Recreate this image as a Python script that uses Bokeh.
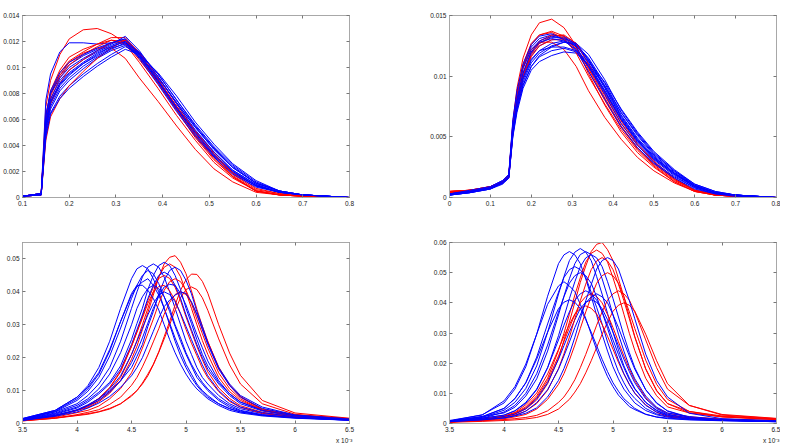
import numpy as np
from bokeh.plotting import figure
from bokeh.layouts import column, row
from bokeh.models import (Range1d, FixedTicker, CustomJSTickFormatter, LinearAxis,
                          Title, ColumnDataSource)
from bokeh.embed import file_html
from bokeh.resources import INLINE

FONT = "Liberation Sans"
BLUE = "#0000ff"
RED = "#ff0000"
GRAY = "#a8a8a8"

# ---------------- top-left panel (values x 1e-4) ----------------
TL_X = [0.10, 0.14, 0.15, 0.16, 0.18, 0.20, 0.23, 0.26, 0.29, 0.32, 0.35, 0.39,
        0.43, 0.47, 0.51, 0.55, 0.60, 0.65, 0.70, 0.80]
TL_BLUE = [
    [1, 3, 75, 95, 112, 119, 119, 118, 119, 119, 108, 89, 68, 48, 32, 19, 9, 4, 2, 0],
    [1, 3, 60, 80, 94, 102, 109, 114, 119, 122, 111, 91, 70, 50, 33, 20, 9, 4, 2, 0],
    [1, 2, 55, 72, 86, 94, 103, 110, 116, 120, 110, 93, 73, 54, 37, 23, 11, 5, 2, 0],
    [1, 2, 50, 68, 82, 90, 99, 107, 113, 117, 108, 90, 70, 51, 35, 21, 10, 4, 2, 0],
    [1, 3, 58, 76, 90, 98, 106, 112, 117, 121, 109, 89, 68, 49, 32, 19, 9, 4, 2, 0],
    [1, 2, 48, 65, 78, 86, 95, 103, 110, 116, 111, 95, 75, 56, 39, 25, 12, 5, 2, 0],
    [1, 3, 62, 82, 96, 104, 110, 115, 119, 122, 110, 90, 69, 50, 33, 20, 9, 4, 2, 0],
    [1, 2, 52, 70, 84, 92, 101, 108, 114, 119, 112, 95, 75, 55, 38, 24, 11, 5, 2, 0],
    [1, 3, 56, 74, 88, 96, 104, 111, 116, 120, 107, 87, 66, 47, 31, 18, 8, 4, 2, 0],
    [1, 2, 46, 64, 76, 84, 93, 101, 108, 114, 110, 96, 78, 58, 41, 26, 13, 5, 2, 0],
    [1, 3, 64, 80, 92, 100, 107, 113, 118, 124, 113, 93, 72, 52, 35, 21, 10, 4, 2, 0],
    [1, 2, 54, 73, 87, 95, 103, 109, 115, 118, 109, 92, 73, 54, 37, 23, 11, 5, 2, 0],
]
TL_RED = [
    [1, 3, 70, 90, 110, 122, 129, 130, 126, 119, 106, 88, 67, 46, 29, 16, 5, 2, 1, 0],
    [1, 3, 60, 80, 96, 105, 112, 118, 123, 123, 111, 91, 69, 48, 31, 17, 5, 2, 1, 0],
    [1, 2, 55, 75, 92, 102, 110, 116, 121, 120, 108, 88, 67, 47, 30, 16, 5, 2, 1, 0],
    [1, 3, 62, 82, 98, 108, 114, 118, 121, 118, 104, 84, 63, 44, 27, 15, 5, 2, 1, 0],
    [1, 2, 58, 78, 94, 104, 111, 115, 115, 107, 92, 74, 55, 37, 22, 12, 4, 2, 1, 0],
    [1, 2, 52, 72, 88, 98, 106, 113, 119, 121, 110, 91, 70, 50, 33, 18, 6, 3, 1, 0],
    [1, 2, 44, 62, 76, 86, 97, 107, 115, 121, 112, 93, 72, 51, 34, 19, 7, 3, 1, 0],
]

# ---------------- top-right panel (values x 1e-4) ----------------
TR_X = [0.0, 0.05, 0.10, 0.13, 0.145, 0.155, 0.165, 0.18, 0.20, 0.22, 0.25, 0.28,
        0.31, 0.34, 0.38, 0.42, 0.46, 0.50, 0.55, 0.60, 0.65, 0.70, 0.80]
TR_BLUE = [
    [3, 5, 8, 12, 17, 60, 85, 108, 124, 131, 134, 133, 127, 113, 90, 66, 47, 32, 19, 9, 4, 2, 0],
    [3, 5, 8, 13, 18, 55, 78, 100, 117, 125, 130, 131, 127, 114, 92, 68, 49, 34, 20, 10, 4, 2, 0],
    [2, 4, 7, 12, 16, 52, 74, 95, 111, 119, 125, 128, 126, 115, 94, 70, 51, 35, 21, 10, 4, 2, 0],
    [3, 5, 8, 13, 17, 58, 80, 102, 119, 127, 132, 132, 126, 111, 88, 64, 45, 31, 18, 8, 3, 1, 0],
    [2, 4, 7, 11, 16, 50, 70, 90, 105, 112, 117, 120, 119, 110, 92, 70, 52, 36, 22, 11, 5, 2, 0],
    [3, 5, 9, 14, 19, 62, 86, 107, 122, 129, 133, 131, 124, 108, 85, 61, 43, 29, 17, 8, 3, 1, 0],
    [2, 4, 7, 12, 17, 54, 76, 97, 113, 121, 127, 129, 125, 113, 91, 67, 48, 33, 20, 9, 4, 2, 0],
    [3, 5, 8, 13, 18, 56, 79, 99, 114, 121, 124, 124, 121, 112, 95, 73, 54, 38, 23, 11, 5, 2, 0],
    [2, 5, 8, 12, 17, 53, 73, 93, 108, 116, 121, 123, 120, 108, 87, 64, 46, 32, 19, 9, 4, 2, 0],
    [3, 6, 9, 14, 19, 64, 88, 110, 126, 133, 135, 130, 121, 104, 81, 58, 41, 28, 16, 7, 3, 1, 0],
    [2, 4, 8, 12, 16, 51, 72, 92, 108, 117, 124, 128, 127, 118, 97, 72, 53, 37, 22, 10, 4, 2, 0],
    [3, 5, 8, 13, 17, 57, 81, 103, 120, 128, 131, 129, 122, 109, 88, 65, 47, 33, 20, 9, 4, 2, 0],
]
TR_RED = [
    [5, 6, 8, 12, 17, 62, 90, 115, 134, 144, 147, 140, 125, 102, 76, 54, 37, 25, 13, 5, 2, 1, 0],
    [5, 6, 9, 13, 18, 60, 85, 108, 126, 134, 137, 133, 122, 104, 80, 58, 40, 27, 14, 6, 2, 1, 0],
    [4, 6, 8, 12, 17, 56, 80, 102, 120, 129, 134, 133, 124, 106, 82, 59, 41, 28, 15, 6, 2, 1, 0],
    [5, 6, 9, 13, 18, 58, 84, 106, 122, 128, 128, 122, 108, 88, 66, 48, 33, 22, 12, 5, 2, 1, 0],
    [4, 5, 8, 12, 16, 52, 76, 98, 116, 125, 130, 130, 123, 107, 84, 61, 43, 29, 15, 6, 2, 1, 0],
    [5, 6, 8, 13, 17, 55, 79, 100, 118, 127, 133, 134, 127, 110, 86, 63, 44, 30, 16, 6, 3, 1, 0],
    [4, 6, 9, 13, 18, 59, 86, 110, 127, 134, 136, 131, 119, 100, 77, 56, 39, 26, 13, 5, 2, 1, 0],
]

# ---------------- bottom panels (x in units of 1e-3, values x 1e-3) ----------------
B_X = [3.5, 3.8, 4.0, 4.1, 4.2, 4.3, 4.4, 4.5, 4.55, 4.6, 4.65, 4.7, 4.75, 4.8,
       4.85, 4.9, 4.95, 5.0, 5.05, 5.1, 5.15, 5.2, 5.3, 5.4, 5.5, 5.7, 6.0, 6.5]
BL_BLUE = [
    [1.5, 4, 8, 11.5, 17, 25, 35, 44, 47, 48, 47, 44, 40, 35, 30, 25, 20.6, 17, 14, 11.5, 9.6, 8, 6, 4.5, 3.5, 2.5, 1.8, 1.1],
    [1.3, 3.5, 6, 8.5, 12, 17, 25, 35, 40, 44.5, 47.5, 48.5, 47.5, 44.5, 40, 35, 30, 25, 21, 17, 14, 12, 8.5, 6, 4.5, 3, 2, 1.2],
    [1.2, 3, 5, 7, 9.5, 12.5, 17.5, 25.5, 30.4, 35, 40.7, 45, 48, 49, 48, 45, 40.7, 35, 30.4, 25.5, 21, 17.5, 12.5, 9, 6.5, 4, 2.3, 1.3],
    [1.4, 3.8, 7.5, 10.5, 15, 22, 31, 39, 41.5, 43, 44, 42, 39, 35, 30.5, 26, 22, 18, 15, 12, 10, 8.5, 6, 4.5, 3.5, 2.5, 1.7, 1],
    [1.1, 2.8, 4.7, 6.5, 9, 12, 16.5, 24, 28.5, 33, 38, 42, 45, 46, 45, 42, 38, 33, 28.5, 24, 20, 16.5, 12, 8.5, 6, 3.8, 2.2, 1.2],
    [1, 2.5, 4, 5.5, 7.5, 10, 13, 17, 20.4, 24, 29.5, 34, 39.4, 43.5, 46.5, 47.5, 46.5, 43.5, 39.4, 34, 29.5, 24.5, 17, 12, 8.5, 5, 2.6, 1.4],
    [1.2, 3.2, 5.5, 7.5, 10.5, 15, 21.5, 30, 35, 38.5, 41, 42, 41, 38.5, 35, 30, 26, 21.5, 18, 15, 12.5, 10.5, 7.5, 5.5, 4, 2.7, 1.8, 1],
    [1, 2.5, 4.2, 5.7, 7.5, 10.5, 14.5, 21, 25, 29, 33, 36.5, 39, 40, 39.2, 37, 33.5, 29.5, 25.5, 21.5, 17.8, 14.5, 10, 7, 5, 3.3, 2, 1.1],
    [1, 2.4, 4, 5.4, 7, 9.5, 13, 18.5, 22, 26, 30.5, 35, 38.6, 41.5, 42.3, 42, 39.5, 36, 31.5, 27, 23, 19, 13, 9, 6.5, 4, 2.3, 1.2],
    [1.3, 3.6, 7, 9.8, 14, 20.5, 29, 38, 42, 45, 46.5, 45.5, 42.5, 38.5, 34, 29.5, 25, 21, 17.5, 14, 12, 10, 7, 5, 3.8, 2.6, 1.8, 1],
    [0.9, 2.2, 3.5, 4.7, 6.2, 8.2, 11, 14.5, 17, 20, 24, 28, 32, 35.5, 37.5, 39, 40, 39.5, 37, 33, 28.5, 24, 16.5, 11.5, 8, 4.6, 2.5, 1.3],
    [1.5, 4, 8, 11, 15.5, 22.5, 31, 39.5, 42, 42, 40.5, 38, 34.5, 30, 25.5, 21.5, 18, 15, 12.5, 10.5, 9, 7.5, 5.5, 4, 3.2, 2.3, 1.6, 1],
]
BL_RED = [
    [1, 2.5, 4, 4.8, 6.6, 9.2, 13, 19.5, 23.5, 28.5, 33.7, 39, 44.4, 48.5, 50.5, 51, 49, 45.5, 40.3, 34.7, 29.6, 25, 16.8, 11.7, 8.2, 4.4, 2.6, 1.5],
    [1, 2.2, 4.1, 5.1, 7, 9.7, 14, 21, 25.2, 30, 35, 40, 44.6, 47.5, 48.5, 47.5, 44.6, 40, 35, 30, 25.2, 21, 14, 9.7, 7, 4.1, 2.4, 1.4],
    [0.9, 1.7, 2.5, 3, 3.6, 4.6, 6, 8.6, 10, 12.3, 15, 18, 21.8, 26.4, 31, 36, 40.5, 43.7, 45.4, 45.3, 43.2, 39.6, 30, 21.4, 14.6, 7, 3.2, 1.6],
    [0.8, 1.6, 2.4, 2.8, 3.5, 4.4, 6, 8.3, 10, 12, 14.5, 17.8, 21.6, 25.7, 30, 34.4, 38.2, 40.7, 41.5, 40.7, 38.2, 34.4, 25.7, 17.8, 12, 6, 2.8, 1.4],
    [1, 2.2, 4, 5.4, 7.6, 10.8, 15.7, 23.4, 27.9, 32.4, 37.4, 41.4, 44.1, 45, 44.1, 41.4, 37.4, 32.4, 27.9, 23.4, 19.4, 15.7, 10.8, 7.6, 5.4, 3.4, 2.1, 1.2],
    [0.8, 1.6, 2.7, 3.4, 4.2, 5.8, 8, 11.6, 14, 17.2, 20.8, 24.8, 28.8, 33.2, 36.8, 39.2, 40, 39.2, 36.8, 33.2, 28.8, 24.8, 17.2, 11.6, 8, 4.2, 2.2, 1.2],
    [0.9, 1.9, 3.3, 4, 5.3, 7.5, 10.6, 15.4, 18.9, 22.9, 27.3, 31.7, 36.5, 40.5, 43.1, 44, 43.1, 40.5, 36.5, 31.7, 27.3, 22.9, 15.4, 10.6, 7.5, 4, 2.3, 1.3],
    [1, 2.3, 4, 5.5, 7.6, 10.9, 16, 23.5, 27.7, 32, 36.5, 40, 41.6, 42, 40.3, 37.4, 33.2, 28.6, 24.4, 20.6, 16.8, 13.9, 9.7, 6.7, 4.9, 3.1, 1.9, 1.1],
]
BR_BLUE = [
    [0.8, 2.9, 6.8, 11.4, 18.8, 29.6, 42.2, 53, 55.9, 57, 55.9, 53, 47.9, 42.2, 35.9, 29.6, 24, 18.8, 14.8, 11.4, 9.1, 6.8, 4.3, 2.9, 2.1, 1.5, 1.1, 0.7],
    [0.7, 2, 4.4, 7, 11.6, 19.1, 30.2, 42.9, 48.7, 54, 56.8, 58, 56.8, 54, 48.7, 42.9, 36.5, 30.2, 24.4, 19.1, 15.1, 11.6, 7, 4.4, 2.9, 1.8, 1.2, 0.8],
    [0.6, 1.7, 2.8, 4.2, 6.7, 11.2, 18.5, 29.1, 35.3, 41.4, 47, 52, 54.9, 56, 54.9, 52, 47, 41.4, 35.3, 29.1, 23.5, 18.5, 11.2, 6.7, 4.2, 2.1, 1.3, 0.8],
    [0.7, 2.3, 5, 8.3, 13.5, 22, 33, 43.5, 48.4, 51, 52, 51, 48.4, 43.5, 38.5, 33, 27, 22, 17.2, 13.5, 10.4, 8.3, 5, 3.2, 2.3, 1.5, 1.1, 0.7],
    [1, 2.8, 7.5, 12.2, 19.7, 29.6, 39.5, 45.6, 47, 45.6, 43.7, 39.5, 34.8, 29.6, 24.4, 19.7, 15.5, 12.2, 9.4, 7.5, 5.6, 4.6, 3, 2.2, 1.8, 1.3, 1, 0.6],
    [0.7, 1.8, 2.7, 4.2, 7, 11.4, 18.5, 27.7, 32.6, 37, 40.9, 43, 44, 43, 40.9, 37, 32.6, 27.7, 22.9, 18.5, 14.5, 11.4, 7, 4.2, 2.7, 1.8, 1, 0.6],
    [0.6, 1.5, 2.3, 3.1, 4.9, 8.2, 13.5, 21.3, 25.8, 30.3, 34.4, 38.1, 40.2, 41, 40.2, 38.1, 34.4, 30.3, 25.8, 21.3, 17.2, 13.5, 8.2, 4.9, 3.1, 1.8, 1.1, 0.7],
    [0.6, 1.2, 1.8, 2.5, 3.4, 5.2, 8.8, 14.3, 18.2, 23, 28.6, 34.7, 40.7, 46, 51.2, 54, 55, 54, 51.2, 46, 40.7, 34.7, 23, 14.3, 8.8, 3.4, 1.6, 0.9],
    [0.6, 1.7, 3.8, 6, 10, 16.5, 26, 37, 42, 46.5, 49, 50, 49, 46.5, 42, 37, 31.5, 26, 21, 16.5, 13, 10, 6, 3.8, 2.5, 1.6, 1.1, 0.7],
    [0.6, 1.3, 1.9, 2.6, 4.1, 6.9, 11.2, 18, 22.4, 27, 31.8, 36, 40, 42, 43, 42, 40, 36, 31.8, 27, 22.4, 18, 11.2, 6.9, 4.1, 1.9, 1.2, 0.7],
    [0.8, 2.3, 3.5, 5.4, 9.1, 14.8, 24, 36, 42.2, 48, 53, 56, 57, 56, 53, 48, 42.2, 36, 29.6, 24, 18.8, 14.8, 9.1, 5.4, 3.5, 2.3, 1.3, 0.8],
    [0.8, 2.2, 5, 8.2, 13.5, 21.3, 30.3, 38.1, 40.2, 41, 40.2, 38.1, 34.4, 30.3, 25.8, 21.3, 17.2, 13.5, 10.7, 8.2, 6.6, 5, 3.1, 2.1, 1.6, 1.2, 0.9, 0.6],
]
BR_RED = [
    [0.5, 1.2, 2.3, 3.2, 4.8, 7.8, 13.2, 21.6, 27.6, 33.6, 40.2, 46.8, 52.2, 57, 59.4, 60, 57.6, 54, 48, 42, 35.4, 28.8, 18, 10.8, 6.6, 4, 2.5, 1.5],
    [0.5, 1.3, 2.4, 3.5, 5.5, 9.2, 15, 24.2, 29.9, 36.2, 42.6, 48.3, 53.5, 56.4, 57.5, 56.4, 53.5, 48.3, 42.6, 36.2, 29.9, 24.2, 15, 9.2, 5.5, 3.5, 2.3, 1.4],
    [0.5, 0.9, 1.3, 1.6, 2, 2.7, 4.2, 7, 8.8, 11.4, 14.5, 18.5, 22.9, 27.7, 32.6, 37, 40.9, 43, 44, 43, 40.9, 37, 27.7, 18.5, 11.4, 6, 2.8, 1.6],
    [0.4, 0.7, 1, 1.2, 1.5, 2, 3, 4.8, 6.4, 8, 10.4, 13.2, 16.8, 20.8, 25.2, 29.6, 33.6, 37.2, 39.2, 40, 39.2, 37.2, 29.6, 20.8, 13.2, 6, 3, 1.7],
    [0.5, 1.3, 2.2, 3.2, 5.2, 8.6, 14.2, 22.4, 27.1, 31.8, 36.1, 40, 42.1, 43, 42.1, 40, 36.1, 31.8, 27.1, 22.4, 18.1, 14.2, 8.6, 5.2, 3.4, 2.2, 1.5, 1],
    [0.5, 1, 1.6, 2.2, 3, 4.8, 8, 13, 16.5, 21, 26, 31.5, 37, 42, 46.5, 49, 50, 49, 46.5, 42, 37, 31.5, 21, 13, 8, 4, 2.2, 1.3],
    [0.5, 1.4, 2.4, 3.7, 6.2, 10.1, 16.4, 24.6, 28.9, 32.8, 36.3, 38.2, 39, 38.2, 36.3, 32.8, 28.9, 24.6, 20.3, 16.4, 12.9, 10.1, 6.2, 3.7, 2.4, 1.8, 1.3, 0.9],
    [0.5, 1.1, 2, 2.8, 4.1, 6.6, 11, 18.2, 23.1, 28.6, 34.7, 40.7, 46.2, 51, 53.9, 55, 53.9, 51, 46.2, 40.7, 34.7, 28.6, 18.2, 11, 6.6, 3.5, 2.2, 1.3],
]

TL_XTICKS = [0.1, 0.2, 0.3, 0.4, 0.5, 0.6, 0.7, 0.8]
TL_YTICKS = [0, 0.002, 0.004, 0.006, 0.008, 0.01, 0.012, 0.014]
TR_XTICKS = [0, 0.1, 0.2, 0.3, 0.4, 0.5, 0.6, 0.7, 0.8]
TR_YTICKS = [0, 0.005, 0.01, 0.015]
B_XTICKS = [3.5, 4, 4.5, 5, 5.5, 6, 6.5]
BL_YTICKS = [0, 0.01, 0.02, 0.03, 0.04, 0.05]
BR_YTICKS = [0, 0.01, 0.02, 0.03, 0.04, 0.05, 0.06]
B_XSCALE_TEXT = "x 10\u207b\u00b3"

for grid, group in ((TL_X, TL_BLUE + TL_RED), (TR_X, TR_BLUE + TR_RED),
                    (B_X, BL_BLUE + BL_RED + BR_BLUE + BR_RED)):
    for c in group:
        assert len(c) == len(grid), (len(c), len(grid))

FMT_CODE = "let s = tick.toFixed(4); s = s.replace(/0+$/, ''); s = s.replace(/\\.$/, ''); return s;"


def panel(width, height, borders, xr, yr, xticks, yticks, xgrid, blue, red, scale,
          scale_text=None):
    left, right, top, bottom = borders
    p = figure(width=width, height=height, output_backend="svg", toolbar_location=None,
               x_range=Range1d(*xr), y_range=Range1d(*yr),
               min_border_left=left, min_border_right=right,
               min_border_top=top, min_border_bottom=bottom)
    p.grid.visible = False
    p.outline_line_color = GRAY
    p.background_fill_color = "white"
    p.border_fill_color = "white"
    for ax, ticks in ((p.xaxis[0], xticks), (p.yaxis[0], yticks)):
        ax.ticker = FixedTicker(ticks=ticks)
        ax.formatter = CustomJSTickFormatter(code=FMT_CODE)
        ax.major_tick_in = 3
        ax.major_tick_out = 0
        ax.minor_tick_line_color = None
        ax.axis_line_color = GRAY
        ax.major_tick_line_color = "#777777"
        ax.major_label_text_font = FONT
        ax.major_label_text_font_size = "6.5px"
        ax.major_label_text_color = "#222222"
        ax.major_label_standoff = 3
    for loc, ticks in (("above", xticks), ("right", yticks)):
        ax = LinearAxis(ticker=FixedTicker(ticks=ticks),
                        formatter=CustomJSTickFormatter(code="return '';"),
                        major_tick_in=3, major_tick_out=0, minor_tick_line_color=None,
                        axis_line_color=GRAY, major_tick_line_color="#777777",
                        major_label_standoff=0, major_label_text_font_size="1px")
        p.add_layout(ax, loc)
    if scale_text:
        p.add_layout(Title(text=scale_text, align="right", text_font=FONT,
                           text_font_size="6.5px", text_font_style="normal",
                           text_color="#222222", standoff=0, offset=-3), "below")
    xs, ys, cs = [], [], []
    n = max(len(blue), len(red))
    for i in range(n):
        if i < len(red):
            xs.append(list(xgrid)); ys.append(list(np.array(red[i]) * scale)); cs.append(RED)
        if i < len(blue):
            xs.append(list(xgrid)); ys.append(list(np.array(blue[i]) * scale)); cs.append(BLUE)
    src = ColumnDataSource(dict(xs=xs, ys=ys, c=cs))
    p.multi_line(xs="xs", ys="ys", line_color="c", line_width=1, line_join="round", source=src)
    return p


p1 = panel(394, 228, (22, 45, 15, 31), (0.1, 0.8), (0, 0.014), TL_XTICKS, TL_YTICKS,
           TL_X, TL_BLUE, TL_RED, 1e-4)
p2 = panel(386, 228, (55, 4, 10, 31), (0, 0.8), (0, 0.015), TR_XTICKS, TR_YTICKS,
           TR_X, TR_BLUE, TR_RED, 1e-4)
p3 = panel(394, 216, (22, 45, 14, 21), (3.5, 6.5), (0, 0.055), B_XTICKS, BL_YTICKS,
           B_X, BL_BLUE, BL_RED, 1e-3, B_XSCALE_TEXT)
p4 = panel(386, 216, (55, 4, 12, 20), (3.5, 6.5), (0, 0.06), B_XTICKS, BR_YTICKS,
           B_X, BR_BLUE, BR_RED, 1e-3, B_XSCALE_TEXT)

layout = column(row(p1, p2), row(p3, p4))
open("out.html", "w").write(file_html(layout, INLINE))
